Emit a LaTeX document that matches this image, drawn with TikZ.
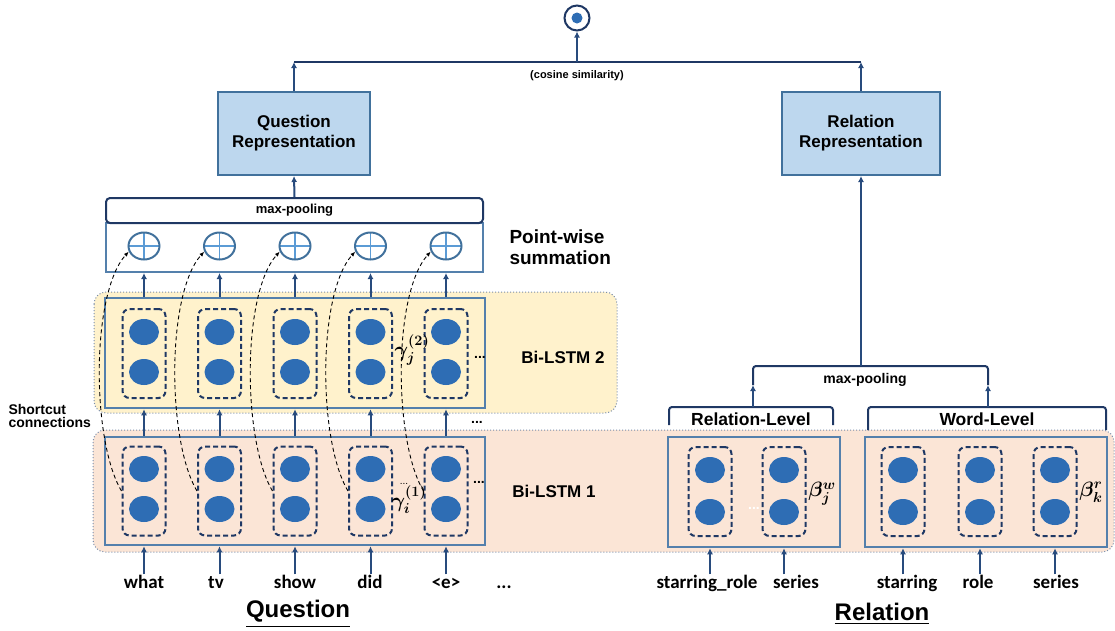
\documentclass[tikz,border=0pt]{standalone}
\usepackage{fontspec}
\setmainfont{Liberation Sans}
\newfontfamily\wordfont{Carlito}
\usepackage{amsmath,bm}
\usetikzlibrary{arrows.meta,shapes.geometric,calc}
\definecolor{navy}{RGB}{31,56,100}
\definecolor{arrowc}{RGB}{40,75,125}
\definecolor{steel}{RGB}{84,128,172}
\definecolor{dotblue}{RGB}{46,109,180}
\definecolor{repfill}{RGB}{189,215,238}
\definecolor{repdraw}{RGB}{65,113,156}
\definecolor{yel}{RGB}{255,242,204}
\definecolor{pinkbg}{RGB}{251,229,214}
\definecolor{bgline}{RGB}{120,140,170}
\definecolor{crossc}{RGB}{91,155,213}
\newcommand{\fs}[1]{\fontsize{#1}{#1}\selectfont}
\tikzset{
  arr/.style={draw=arrowc, line width=2pt, -{Latex[length=6pt,width=6pt]}},
  navyline/.style={draw=navy, line width=2pt},
  dbox/.style={draw=navy, line width=2pt, dash pattern=on 5pt off 3pt, rounded corners=7pt, minimum width=43pt, minimum height=89pt, inner sep=0pt},
  unit/.style={ellipse, fill=dotblue, minimum width=30pt, minimum height=26pt, inner sep=0pt},
  ibox/.style={draw=steel, line width=2.5pt, inner sep=0pt},
  bgbox/.style={draw=bgline, line width=1pt, dotted, rounded corners=12pt},
  plusc/.style={ellipse, draw=repdraw, line width=2pt, minimum width=31pt, minimum height=27pt, inner sep=0pt,
    path picture={\draw[crossc, line width=1.6pt] (path picture bounding box.north) -- (path picture bounding box.south) (path picture bounding box.west) -- (path picture bounding box.east);}},
  repbox/.style={draw=repdraw, fill=repfill, line width=2pt, minimum width=152pt, minimum height=83pt, align=center, font=\bfseries\fs{17}, inner sep=0pt},
  word/.style={font=\wordfont\bfseries\fs{19}, text height=13pt, text depth=4pt, inner sep=1pt},
  lbl/.style={font=\bfseries\fs{17}},
  sc/.style={draw=black, line width=0.9pt, dash pattern=on 4pt off 3pt, -{Latex[length=5pt,width=4pt]}},
  dots/.style={font=\bfseries\fs{14}},
  greek/.style={font=\fs{20}, inner sep=0pt},
}
\begin{document}
\begin{tikzpicture}[x=1pt,y=-1pt]
\useasboundingbox (0,0) rectangle (1115,630);
% backgrounds
\fill[yel] (94,292) [rounded corners=12pt] rectangle (617,413);
\draw[bgbox] (94,292) rectangle (617,413);
\fill[pinkbg] (93,430) [rounded corners=12pt] rectangle (1114,552);
\draw[bgbox] (93,430) rectangle (1114,552);

% top similarity
\node[circle, draw=navy, line width=2pt, minimum size=25pt, inner sep=0pt, fill=white] (dot) at (577,18) {};
\fill[dotblue] (dot.center) circle (5.5pt);
\node[repbox] (qrep) at (294,133.5) {Question\\[3pt]Representation};
\node[repbox, minimum width=158pt] (rrep) at (861,133.5) {Relation\\[3pt]Representation};
\coordinate (jq) at (294,62);
\coordinate (jr) at (861,62);
\coordinate (jc) at (577,62);
\draw[navyline] (jq) -- (jr);
\draw[arr] (qrep.north) -- (jq);
\draw[arr] (rrep.north) -- (jr);
\draw[arr] (jc) -- (dot.south);
\node[font=\bfseries\fs{11}] (cos) at (577,76) {(cosine similarity)};

% question max-pooling box
\node[draw=steel, line width=2pt, minimum width=377pt, minimum height=49pt, inner sep=0pt] (sumbox) at (294.5,247.5) {};
\node[draw=navy, line width=2pt, rounded corners=4pt, minimum width=377pt, minimum height=25pt, inner sep=0pt, font=\bfseries\fs{13}, fill=white] (mpq) at (294.5,210.5) {max-pooling};
\draw[arr] (mpq.north) -- (qrep.south);
\node[anchor=west, align=left, font=\bfseries\fs{19}] (pws) at (506,247) {Point-wise\\[2pt]summation};

% Bi-LSTM boxes
\node[ibox, minimum width=380pt, minimum height=110pt] (l2) at (295,353) {};
\node[ibox, minimum width=380pt, minimum height=108pt] (l1) at (295,491) {};

\foreach \i/\x in {1/144,2/219.5,3/295,4/370.5,5/446} {
  \node[plusc] (p\i) at (\x,246) {};
  \node[dbox] (a\i) at (\x,353.5) {};
  \node[unit] at (\x,332) {};
  \node[unit] at (\x,372) {};
  \node[dbox] (b\i) at (\x,491) {};
  \node[unit] at (\x,469) {};
  \node[unit] at (\x,509) {};
  \draw[arr] (a\i |- l2.north) -- (p\i |- sumbox.south);
  \draw[arr] (b\i |- l1.north) -- (a\i |- l2.south);
}
\foreach \i in {1,...,5} {
  \draw[sc] (b\i.west) .. controls ($(b\i.west)+(-30,-50)$) and ($(p\i.200)+(-38,42)$) .. (p\i.200);
}

% question words
\node[word] (w1) at (144,584) {what};
\node[word] (w2) at (216,584) {tv};
\node[word] (w3) at (295,584) {show};
\node[word] (w4) at (370,584) {did};
\node[word] (w5) at (446,584) {<e>};
\node[word] (w6) at (504,584) {...};
\foreach \i in {1,...,5} { \draw[arr] (b\i |- w\i.north) -- (b\i |- l1.south); }

\node[font=\bfseries\fs{24}] (qlab) at (298,614) {\underline{Question}};

% labels
\node[anchor=west, align=left, font=\bfseries\fs{14}] (short) at (5,416) {Shortcut\\[-1pt]connections};
\node[lbl] (bl2) at (563,357) {Bi-LSTM 2};
\node[lbl] (bl1) at (554,491) {Bi-LSTM 1};
\node[dots] (d1) at (480,357) {...};
\node[dots] (d2) at (477,422) {...};
\node[dots] (d3) at (479,482) {...};
\node[font=\fs{10}] (d4) at (404,484) {...};
\node[greek] (g2) at (412,350) {$\bm{\gamma_{j}^{(2)}}$};
\node[greek] (g1) at (409,500) {$\bm{\gamma_{i}^{(1)}}$};

% relation side
\node[ibox, minimum width=172pt, minimum height=110pt] (rl) at (754,492) {};
\node[ibox, minimum width=242pt, minimum height=110pt] (wl) at (986,492) {};
\foreach \i/\x in {1/710,2/784} {
  \node[dbox] (r\i) at (\x,491.5) {};
  \node[unit] at (\x,470) {};
  \node[unit] at (\x,512) {};
}
\foreach \i/\x in {1/903,2/980,3/1055} {
  \node[dbox] (s\i) at (\x,491.5) {};
  \node[unit] at (\x,470) {};
  \node[unit] at (\x,512) {};
}
\node[font=\bfseries\fs{14}, text=white] (d5) at (754,508) {...};
\node[greek] (bw) at (822,494) {$\bm{\beta_{j}^{w}}$};
\node[greek] (br) at (1091,492) {$\bm{\beta_{k}^{r}}$};

\node[word] (rw1) at (707,584) {starring\_role};
\node[word] (rw2) at (796,584) {series};
\node[word] (rw3) at (907,584) {starring};
\node[word] (rw4) at (978,584) {role};
\node[word] (rw5) at (1056,584) {series};
\draw[arr] (r1 |- rw1.north) -- (r1 |- rl.south);
\draw[arr] (r2 |- rw2.north) -- (r2 |- rl.south);
\draw[arr] (s1 |- rw3.north) -- (s1 |- wl.south);
\draw[arr] (s2 |- rw4.north) -- (s2 |- wl.south);
\draw[arr] (s3 |- rw5.north) -- (s3 |- wl.south);
\node[font=\bfseries\fs{24}] (rlab) at (882,614) {\underline{Relation}};

% brackets
\coordinate (rb1) at (669,425); \coordinate (rb2) at (669,407);
\coordinate (rb3) at (833,407); \coordinate (rb4) at (833,425);
\draw[navyline, rounded corners=3pt] (rb1) -- (rb2) -- (rb3) -- (rb4);
\coordinate (wb1) at (868,430); \coordinate (wb2) at (868,407);
\coordinate (wb3) at (1106,407); \coordinate (wb4) at (1106,430);
\draw[navyline, rounded corners=3pt] (wb1) -- (wb2) -- (wb3) -- (wb4);
\node[font=\bfseries\fs{17.5}] (rlt) at (751,419) {Relation-Level};
\node[font=\bfseries\fs{17.5}] (wlt) at (987,419) {Word-Level};

\coordinate (lb) at (753,407); \coordinate (lm) at (753,385); \coordinate (lt) at (753,366);
\coordinate (rbb) at (988,407); \coordinate (rm) at (988,385); \coordinate (rt) at (988,366);
\coordinate (mj) at (861,366);
\draw[arr] (lb) -- (lm);
\draw[arr] (rbb) -- (rm);
\draw[navyline, rounded corners=3pt] (lm) -- (lt) -- (rt) -- (rm);
\draw[arr] (mj) -- (rrep.south);
\node[font=\bfseries\fs{14}] (mpr) at (865,380) {max-pooling};
\end{tikzpicture}
\end{document}
